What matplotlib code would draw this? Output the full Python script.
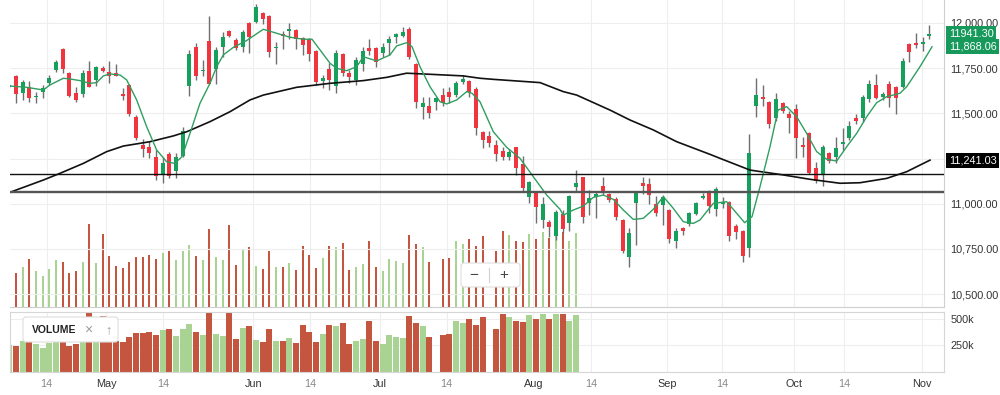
import matplotlib
matplotlib.use("Agg")
import matplotlib.pyplot as plt
import numpy as np
from matplotlib.patches import FancyBboxPatch
from matplotlib.transforms import IdentityTransform, blended_transform_factory
from matplotlib.lines import Line2D

plt.rcParams['font.family'] = ['Liberation Sans', 'DejaVu Sans']

# daily candles, one per trading day (index 0..138)
opens = [11645, 11707, 11611, 11648, 11590, 11616, 11670, 11740, 11854, 11725,
         11614, 11605, 11734, 11685, 11749, 11727, 11723, 11607, 11655, 11481,
         11325, 11315, 11260, 11159, 11275, 11181, 11264, 11653, 11865, 11735,
         11902, 11744, 11866, 11957, 11906, 11869, 12002, 12007, 12054, 12040,
         11860, 11937, 11956, 11961, 11915, 11911, 11845, 11681, 11745, 11651,
         11828, 11725, 11685, 11773, 11860, 11860, 11836, 11891, 11921, 11928,
         11967, 11773, 11533, 11539, 11564, 11601, 11616, 11601, 11675, 11679,
         11633, 11398, 11375, 11325, 11293, 11257, 11312, 11220, 11039, 11066,
         10910, 10897, 10821, 10943, 10891, 11090, 11146, 11002, 11039, 11098,
         11053, 11024, 10910, 10703, 11002, 11112, 11107, 10998, 10993, 10965,
         10795, 10867, 10888, 10943, 11030, 11066, 10969, 10998, 11011, 10877,
         10851, 10753, 11541, 11592, 11564, 11472, 11559, 11495, 11522, 11325,
         11389, 11199, 11159, 11282, 11260, 11330, 11362, 11472, 11472, 11578,
         11657, 11592, 11662, 11648, 11644, 11884, 11891, 11882, 11930]
highs = [11660, 11712, 11685, 11680, 11620, 11657, 11710, 11797, 11862, 11730,
         11648, 11740, 11791, 11762, 11760, 11790, 11775, 11640, 11660, 11490,
         11356, 11348, 11297, 11260, 11285, 11283, 11426, 11851, 11888, 11795,
         12039, 11869, 11952, 11962, 11917, 11962, 12005, 12105, 12063, 12046,
         11896, 11956, 11998, 11967, 11920, 11917, 11851, 11712, 11777, 11851,
         11836, 11740, 11814, 11869, 11910, 11869, 11890, 11928, 11947, 11975,
         11980, 11780, 11592, 11592, 11592, 11638, 11647, 11680, 11710, 11685,
         11647, 11404, 11404, 11352, 11316, 11300, 11316, 11265, 11127, 11072,
         11035, 10910, 10965, 10965, 11048, 11186, 11150, 11076, 11066, 11150,
         11057, 11035, 10913, 10867, 11072, 11146, 11140, 11042, 11048, 10970,
         10864, 10873, 10955, 11011, 11061, 11076, 11090, 11039, 11015, 10887,
         10854, 11384, 11697, 11657, 11570, 11611, 11565, 11513, 11552, 11371,
         11398, 11232, 11325, 11288, 11367, 11417, 11459, 11497, 11601, 11685,
         11718, 11620, 11681, 11651, 11805, 11888, 11943, 11921, 11989]
lows = [11640, 11557, 11574, 11560, 11557, 11583, 11657, 11726, 11724, 11590,
        11563, 11590, 11644, 11652, 11730, 11666, 11705, 11574, 11485, 11350,
        11260, 11255, 11131, 11116, 11142, 11142, 11260, 11596, 11685, 11707,
        11661, 11662, 11813, 11924, 11851, 11840, 11836, 12002, 11992, 11813,
        11773, 11856, 11910, 11854, 11821, 11790, 11657, 11638, 11629, 11612,
        11707, 11670, 11657, 11735, 11823, 11758, 11813, 11823, 11891, 11920,
        11799, 11528, 11467, 11472, 11520, 11540, 11557, 11592, 11662, 11592,
        11380, 11306, 11311, 11238, 11241, 11241, 11159, 11072, 11005, 10891,
        10864, 10818, 10799, 10836, 10851, 11066, 10891, 10937, 10920, 11048,
        11011, 10910, 10725, 10648, 10771, 11053, 10998, 10933, 10882, 10780,
        10753, 10827, 10876, 10937, 11024, 10950, 10930, 10974, 10791, 10806,
        10679, 10703, 11478, 11541, 11417, 11459, 11502, 11393, 11254, 11260,
        11163, 11116, 11098, 11226, 11223, 11297, 11352, 11443, 11454, 11564,
        11578, 11574, 11533, 11496, 11638, 11786, 11860, 11847, 11910]
closes = [11655, 11607, 11675, 11587, 11598, 11642, 11694, 11786, 11744, 11596,
          11574, 11725, 11647, 11755, 11736, 11708, 11708, 11594, 11495, 11365,
          11303, 11282, 11153, 11227, 11153, 11260, 11402, 11828, 11707, 11740,
          11661, 11851, 11924, 11928, 11863, 11948, 11921, 12090, 12020, 11841,
          11869, 11928, 11965, 11910, 11878, 11827, 11675, 11694, 11685, 11836,
          11725, 11700, 11795, 11847, 11845, 11786, 11865, 11911, 11937, 11952,
          11810, 11564, 11559, 11504, 11583, 11556, 11592, 11666, 11690, 11620,
          11417, 11352, 11334, 11275, 11257, 11288, 11196, 11085, 11122, 10983,
          10998, 10869, 10955, 10858, 11042, 11112, 10928, 11030, 11052, 11061,
          11020, 10925, 10740, 10836, 11066, 11099, 11048, 10950, 11035, 10803,
          10849, 10851, 10950, 11005, 11042, 10987, 11079, 11007, 10821, 10845,
          10710, 11279, 11601, 11579, 11441, 11578, 11515, 11472, 11362, 11312,
          11171, 11127, 11315, 11236, 11306, 11343, 11430, 11459, 11589, 11662,
          11587, 11605, 11587, 11587, 11790, 11841, 11878, 11893, 11941.30]

# volume (thousands), only available for the first 86 sessions
volume_k = [252, 248, 289, 351, 265, 228, 277, 346, 329, 248,
            260, 329, 608, 321, 535, 370, 296, 284, 329, 365,
            365, 382, 351, 395, 407, 340, 407, 451, 375, 346,
            571, 363, 340, 603, 309, 414, 439, 301, 279, 407,
            289, 289, 321, 272, 443, 382, 284, 358, 443, 436,
            468, 267, 289, 316, 480, 289, 265, 351, 333, 321,
            529, 463, 436, 329, np.nan, 351, 358, 480, 463, 500,
            443, 517, np.nan, 407, 554, 524, 480, 473, 537, 500,
            549, 505, 546, 546, 480, 542]

# short moving average (green), read at session positions
fast_ma_x = [0.1, 2.6, 5.1, 6.1, 8.1, 9.1, 10.6, 12.1, 13.1, 14.1,
             15.1, 16.6, 17.6, 19.1, 20.6, 22.1, 23.6, 24.8, 25.9, 27.1,
             28.6, 30.1, 31.1, 32.1, 33.6, 35.6, 38.1, 40.1, 42.1, 44.1,
             45.4, 46.6, 48.1, 49.1, 50.6, 52.1, 53.1, 55.1, 57.1, 58.1,
             59.6, 60.4, 61.6, 63.1, 64.6, 65.6, 67.1, 68.6, 69.4, 70.6,
             72.6, 74.6, 76.6, 78.6, 80.6, 82.6, 83.1, 84.6, 86.1, 87.6,
             89.1, 90.6, 92.1, 93.6, 95.1, 96.6, 98.1, 99.6, 101.1, 102.6,
             103.6, 105.6, 107.6, 109.1, 110.3, 111.4, 112.6, 114.1, 115.3, 116.6,
             118.1, 119.6, 121.1, 122.6, 124.1, 125.6, 127.1, 128.6, 130.1, 131.6,
             133.6, 134.6, 136.6, 138.4]
fast_ma = [11651, 11644, 11629, 11657, 11694, 11690, 11681, 11666, 11670, 11707,
           11718, 11712, 11685, 11574, 11426, 11297, 11232, 11223, 11260, 11389,
           11556, 11666, 11758, 11823, 11865, 11903, 11965, 11943, 11921, 11910,
           11910, 11851, 11777, 11749, 11736, 11758, 11813, 11790, 11823, 11873,
           11891, 11869, 11758, 11647, 11564, 11552, 11574, 11620, 11611, 11564,
           11398, 11312, 11251, 11149, 11048, 10969, 10937, 10965, 10987, 11035,
           11048, 11024, 10965, 10913, 10919, 10969, 11039, 10974, 10900, 10891,
           10910, 11002, 11011, 10947, 10895, 10928, 11094, 11315, 11518, 11537,
           11481, 11389, 11288, 11246, 11236, 11315, 11389, 11481, 11559, 11592,
           11611, 11647, 11758, 11868.06]

# long moving average (black)
slow_ma_x = [0.1, 5.1, 7.6, 11.1, 14.6, 17.1, 21.1, 24.6, 26.6, 30.1,
             33.1, 36.1, 38.1, 43.1, 48.1, 53.1, 56.6, 59.6, 63.1, 68.1,
             70.6, 72.6, 79.6, 83.1, 85.1, 90.1, 93.1, 96.6, 100.1, 105.1,
             106.6, 111.1, 116.1, 120.1, 124.6, 127.6, 131.6, 134.6, 138.1]
slow_ma = [11063, 11131, 11168, 11223, 11288, 11319, 11343, 11375, 11398, 11454,
           11509, 11574, 11601, 11644, 11666, 11681, 11699, 11722, 11716, 11707,
           11694, 11688, 11670, 11620, 11601, 11518, 11463, 11408, 11343, 11273,
           11251, 11186, 11159, 11135, 11113, 11116, 11140, 11177, 11241.03]

levels = [11162, 11063]

tick_pos = [5.6, 14.5, 23.1, 36.6, 45.1, 55.6, 65.6, 78.6, 87.3, 98.7, 106.9, 117.7, 125.2, 136.85]
tick_labels = ['14', 'May', '14', 'Jun', '14', 'Jul', '14', 'Aug', '14', 'Sep', '14', 'Oct', '14', 'Nov']
price_ticks = [10500, 10750, 11000, 11250, 11500, 11750, 12000]

UP, DOWN = '#16a05c', '#f0353f'
VOL_UP, VOL_DOWN = '#a9d393', '#c4553f'

o = np.array(opens); h = np.array(highs); l = np.array(lows); c = np.array(closes)
x = np.arange(len(o))
up = c >= o
vx = x[:len(volume_k)]
vcol = [VOL_UP if u else VOL_DOWN for u in up[:len(volume_k)]]

fig = plt.figure(figsize=(10, 3.95), dpi=100)
ax_ov = fig.add_axes([0.01, 0.2235, 0.934, 0.7765])
ax = ax_ov.twinx()
ax.set_zorder(ax_ov.get_zorder() + 1)
ax.patch.set_visible(False)

# thin volume overlay behind the candles
ax_ov.bar(vx, volume_k, width=0.32, color=vcol, zorder=2)
ax_ov.set_ylim(0, 2255)
ax_ov.set_yticks([])
ax_ov.set_xlim(0.1, 140.2)
ax_ov.set_xticks(tick_pos)
ax_ov.tick_params(axis='x', labelbottom=False, length=0)
ax_ov.grid(axis='x', color='#eeeeee', lw=0.8, zorder=0)
for s in ax_ov.spines.values():
    s.set_visible(False)

# price grid
for p in price_ticks:
    ax.axhline(p, color='#eeeeee', lw=0.8, zorder=0)

# candles
ax.vlines(x, l, h, color='#6f6f6f', lw=1, zorder=3)
body = np.maximum(np.abs(c - o), 6)
ax.bar(x, body, bottom=np.minimum(o, c), width=0.62,
       color=np.where(up, UP, DOWN), zorder=4)

ax.plot(slow_ma_x, slow_ma, color='#111111', lw=1.2, zorder=5)
ax.plot(fast_ma_x, fast_ma, color='#2f9e60', lw=1.0, zorder=5)
ax.axhline(levels[0], color='#111111', lw=1.0, zorder=5)
ax.axhline(levels[1], color='#555555', lw=1.7, zorder=5)

ax.set_ylim(10430, 12127)
ax.set_xlim(0.1, 140.2)
ax.yaxis.tick_right()
ax.set_yticks(price_ticks)
ax.set_yticklabels(['' if p == 11250 else f'{p:,.2f}' for p in price_ticks])
ax.tick_params(axis='y', length=0, pad=4.5, labelsize=7.8, colors='#333333')
ax.tick_params(axis='x', labelbottom=False, length=0)
for side in ['top', 'left']:
    ax.spines[side].set_visible(False)
for side in ['right', 'bottom']:
    ax.spines[side].set_color('#cfcfcf')

# last value tags
tr = blended_transform_factory(ax.transAxes, ax.transData)
tags = [(closes[-1], '11941.30', '#16995a'), (fast_ma[-1], '11,868.06', '#16995a'),
        (slow_ma[-1], '11,241.03', '#000000')]
for val, txt, col in tags:
    ax.text(1.005, val, txt, transform=tr, ha='left', va='center', fontsize=7.8,
            color='white', zorder=10,
            bbox=dict(boxstyle='square,pad=0.22', fc=col, ec='none'))

# volume panel
axv = fig.add_axes([0.01, 0.059, 0.934, 0.1504])
axv.bar(vx, volume_k, width=0.86, color=vcol, zorder=2)
axv.set_xlim(0.1, 140.2)
axv.set_ylim(0, 566)
axv.yaxis.tick_right()
axv.set_yticks([250, 500])
axv.set_yticklabels(['250k', '500k'])
axv.tick_params(axis='y', length=0, pad=4.5, labelsize=7.8, colors='#333333')
axv.set_xticks(tick_pos)
axv.set_xticklabels(tick_labels)
axv.tick_params(axis='x', length=0, pad=5, labelsize=7.8)
for lab in axv.get_xticklabels():
    lab.set_color('#888888' if lab.get_text() == '14' else '#333333')
axv.grid(color='#eeeeee', lw=0.8, zorder=0)
for s in axv.spines.values():
    s.set_color('#d6d6d6')

# overlay controls (pixel coordinates)
def box(x0, y0, w, hgt):
    p = FancyBboxPatch((x0, 395 - y0 - hgt), w, hgt, boxstyle='round,pad=0,rounding_size=3',
                       transform=IdentityTransform(), fc='white', ec='#dddddd', lw=0.8, zorder=20)
    fig.add_artist(p)

box(23, 317, 95, 25)
fig.text(0.032, 1 - 330 / 395, 'VOLUME', fontsize=7.5, color='#222222', va='center',
         fontweight='semibold', zorder=21)
fig.text(0.088, 1 - 330 / 395, '×', fontsize=10, color='#9a9a9a', va='center', ha='center', zorder=21)
fig.text(0.108, 1 - 330 / 395, '↑', fontsize=9, color='#9a9a9a', va='center', ha='center', zorder=21)

box(461, 263, 59, 24)
fig.text(0.474, 1 - 275 / 395, '−', fontsize=11, color='#444444', va='center', ha='center', zorder=21)
fig.text(0.504, 1 - 275 / 395, '+', fontsize=11, color='#444444', va='center', ha='center', zorder=21)
fig.add_artist(Line2D([489, 489], [395 - 282, 395 - 268], transform=IdentityTransform(),
                      color='#d0d0d0', lw=0.8, zorder=21))

fig.savefig('out.png', dpi=100)
